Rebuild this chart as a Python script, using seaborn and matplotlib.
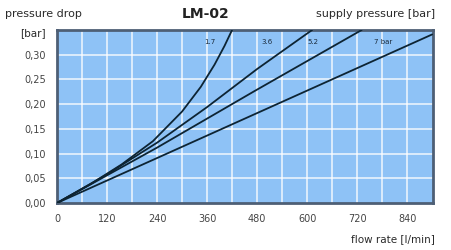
import pandas as pd
import numpy as np
import matplotlib
matplotlib.use("Agg")
import matplotlib.pyplot as plt
import seaborn as sns
from matplotlib.ticker import FuncFormatter

# curve data (flow l/min -> pressure drop bar)
flow_17 = [0, 80, 155, 230, 300, 345, 378, 402, 420]
drop_17 = [0, 0.038, 0.078, 0.125, 0.185, 0.235, 0.28, 0.318, 0.35]
flow_36 = [0, 120, 240, 360, 480, 612]
drop_36 = [0, 0.058, 0.122, 0.194, 0.271, 0.35]
flow_52 = [0, 240, 475, 731]
drop_52 = [0, 0.112, 0.227, 0.35]
flow_70 = [0, 475, 900]
drop_70 = [0, 0.18, 0.341]

curve_labels = ["1.7", "3.6", "5.2", "7 bar"]
label_x = [367, 504, 614, 782]
label_y = [0.325, 0.325, 0.325, 0.325]

x_ticks = [0, 120, 240, 360, 480, 600, 720, 840]
y_ticks = [0.00, 0.05, 0.10, 0.15, 0.20, 0.25, 0.30]

frames = []
for name, fx, fy in [("1.7", flow_17, drop_17), ("3.6", flow_36, drop_36),
                     ("5.2", flow_52, drop_52), ("7", flow_70, drop_70)]:
    frames.append(pd.DataFrame({"flow": fx, "drop": fy, "supply": name}))
data = pd.concat(frames, ignore_index=True)

sns.set_style("white")
plt.rcParams['font.family'] = ['DejaVu Sans']

fig = plt.figure(figsize=(4.51, 2.5), dpi=100)
ax = fig.add_axes([0.1264, 0.188, 0.8336, 0.692])
ax.set_facecolor("#8ec2f6")

# white grid every 60 l/min and 0.05 bar
for gx in np.arange(60, 900, 60):
    ax.axvline(gx, color="white", lw=1.2, alpha=0.8, zorder=1)
for gy in np.arange(0.05, 0.35, 0.05):
    ax.axhline(gy, color="white", lw=1.2, alpha=0.8, zorder=1)

sns.lineplot(data=data, x="flow", y="drop", units="supply", estimator=None,
             color="#0d2433", lw=1.3, ax=ax, zorder=3, sort=False)

for lab, lx, ly in zip(curve_labels, label_x, label_y):
    ax.text(lx, ly, lab, fontsize=5, color="#1a2a3a", ha="center", va="center", zorder=4)

ax.set_xlim(0, 902)
ax.set_ylim(0, 0.35)
ax.set_xticks(x_ticks)
ax.set_yticks(y_ticks)
ax.yaxis.set_major_formatter(FuncFormatter(lambda v, p: f"{v:.2f}".replace(".", ",")))
ax.tick_params(length=0, labelsize=7, colors="#444444", pad=8)
ax.set_xlabel("")
ax.set_ylabel("")
for sp in ax.spines.values():
    sp.set_color("#4e5f75")
    sp.set_linewidth(2)

fig.text(0.012, 0.945, "pressure drop", fontsize=8, color="#2a2a2a", ha="left", va="center")
fig.text(0.045, 0.868, "[bar]", fontsize=7.5, color="#2a2a2a", ha="left", va="center")
fig.text(0.455, 0.945, "LM-02", fontsize=10, fontweight="bold", color="#222222", ha="center", va="center")
fig.text(0.965, 0.945, "supply pressure [bar]", fontsize=8, color="#2a2a2a", ha="right", va="center")
fig.text(0.965, 0.045, "flow rate [l/min]", fontsize=7.5, color="#2a2a2a", ha="right", va="center")

plt.savefig("out.png", dpi=100)
